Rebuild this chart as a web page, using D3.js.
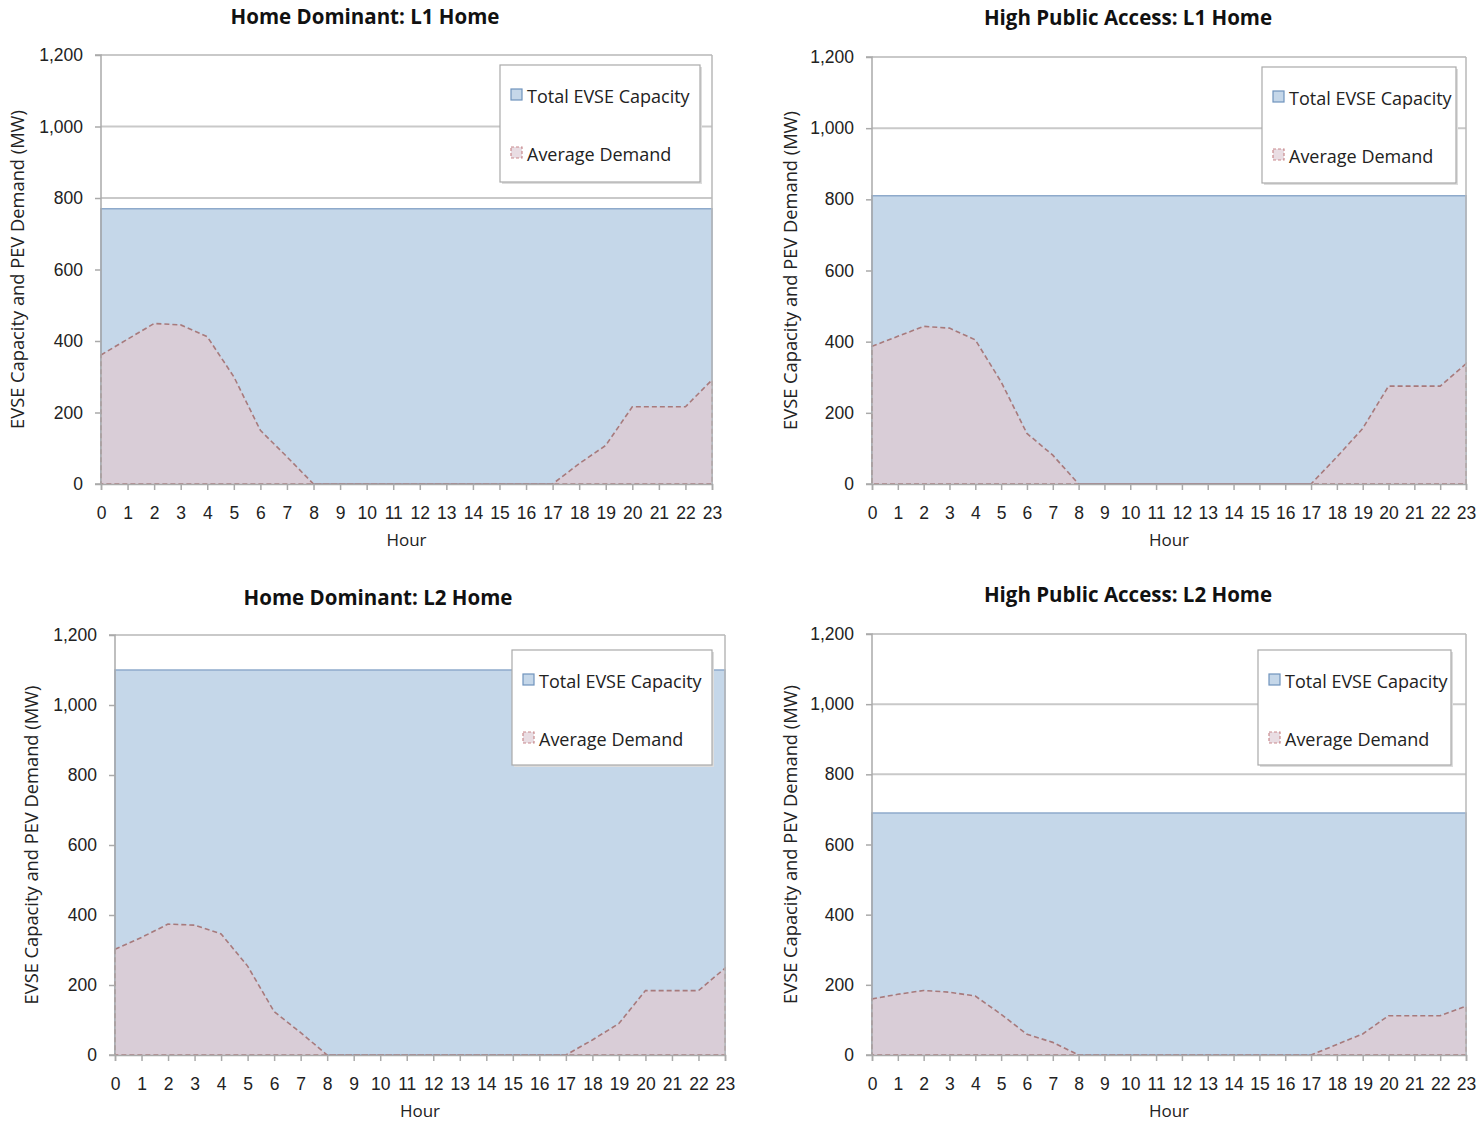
<!DOCTYPE html>
<html>
<head>
<meta charset="utf-8">
<script src="https://cdn.jsdelivr.net/npm/d3@7"></script>
<style>
  body { margin: 0; background: #fff; }
  svg { font-family: "Open Sans", "Lato", sans-serif; }
  .title { font-weight: bold; font-size: 20.5px; fill: #111; }
  .tick text { font-size: 17.5px; fill: #222; }
  .lbl { font-size: 17px; fill: #222; }
  .ytitle { font-size: 18.3px; fill: #222; }
  .leg { font-size: 18px; fill: #222; }
</style>
</head>
<body>
<svg id="chart" width="1484" height="1125"></svg>
<script>
"use strict";

// hours on the x axis
var hours = [0, 1, 2, 3, 4, 5, 6, 7, 8, 9, 10, 11, 12, 13, 14, 15, 16, 17, 18, 19, 20, 21, 22, 23];
var yTicks = [0, 200, 400, 600, 800, 1000, 1200];
var legendLabels = ["Total EVSE Capacity", "Average Demand"];
var titles = ["Home Dominant: L1 Home", "High Public Access: L1 Home",
              "Home Dominant: L2 Home", "High Public Access: L2 Home"];

// total EVSE capacity (MW)
var capHomeL1 = [770, 770, 770, 770, 770, 770, 770, 770, 770, 770, 770, 770, 770, 770, 770, 770, 770, 770, 770, 770, 770, 770, 770, 770];
var capPublicL1 = [810, 810, 810, 810, 810, 810, 810, 810, 810, 810, 810, 810, 810, 810, 810, 810, 810, 810, 810, 810, 810, 810, 810, 810];
var capHomeL2 = [1100, 1100, 1100, 1100, 1100, 1100, 1100, 1100, 1100, 1100, 1100, 1100, 1100, 1100, 1100, 1100, 1100, 1100, 1100, 1100, 1100, 1100, 1100, 1100];
var capPublicL2 = [690, 690, 690, 690, 690, 690, 690, 690, 690, 690, 690, 690, 690, 690, 690, 690, 690, 690, 690, 690, 690, 690, 690, 690];

// average PEV demand (MW)
var demHomeL1 = [361, 405, 449, 445, 412, 300, 150, 76, 0, 0, 0, 0, 0, 0, 0, 0, 0, 0, 57, 108, 216, 216, 216, 291];
var demPublicL1 = [387, 415, 443, 438, 405, 287, 142, 81, 0, 0, 0, 0, 0, 0, 0, 0, 0, 0, 76, 156, 275, 275, 275, 338];
var demHomeL2 = [302, 336, 374, 371, 346, 254, 124, 64, 0, 0, 0, 0, 0, 0, 0, 0, 0, 0, 43, 90, 184, 184, 184, 248];
var demPublicL2 = [160, 173, 184, 179, 168, 116, 59, 36, 0, 0, 0, 0, 0, 0, 0, 0, 0, 0, 30, 60, 112, 112, 112, 139];

var svg = d3.select("#chart");

var panels = [
  { title: titles[0], cap: capHomeL1, dem: demHomeL1,
    left: 101, right: 712, top: 55, bottom: 484, titleX: 365, titleY: 24, yTitleX: 24,
    legend: { x: 500, y: 65, w: 200, h: 117 } },
  { title: titles[1], cap: capPublicL1, dem: demPublicL1,
    left: 872, right: 1466, top: 57, bottom: 484, titleX: 1128, titleY: 25, yTitleX: 797,
    legend: { x: 1262, y: 67, w: 194, h: 116 } },
  { title: titles[2], cap: capHomeL2, dem: demHomeL2,
    left: 115, right: 725, top: 635, bottom: 1055, titleX: 378, titleY: 605, yTitleX: 38,
    legend: { x: 512, y: 650, w: 200, h: 115 } },
  { title: titles[3], cap: capPublicL2, dem: demPublicL2,
    left: 872, right: 1466, top: 634, bottom: 1055, titleX: 1128, titleY: 602, yTitleX: 797,
    legend: { x: 1258, y: 650, w: 193, h: 115 } }
];

panels.forEach(function(p) {
  var x = d3.scalePoint().domain(hours).range([p.left, p.right]);
  var y = d3.scaleLinear().domain([0, 1200]).range([p.bottom, p.top]);

  // title
  svg.append("text").attr("class", "title")
    .attr("x", p.titleX).attr("y", p.titleY)
    .attr("text-anchor", "middle").text(p.title);

  // gridlines
  svg.append("g").selectAll("line").data(yTicks.slice(1)).enter().append("line")
    .attr("x1", p.left).attr("x2", p.right)
    .attr("y1", function(d) { return y(d); }).attr("y2", function(d) { return y(d); })
    .attr("stroke", "#c9c9c9").attr("stroke-width", 2);

  var area = d3.area()
    .x(function(d, i) { return x(hours[i]); })
    .y0(y(0))
    .y1(function(d) { return y(d); });

  // capacity area
  svg.append("path").datum(p.cap)
    .attr("d", area)
    .attr("fill", "#c5d7e9")
    .attr("stroke", "#8eaacb").attr("stroke-width", 1.5);

  // demand area, dashed outline
  svg.append("path").datum(p.dem)
    .attr("d", area)
    .attr("fill", "#d9cdd7")
    .attr("stroke", "#a77a7c").attr("stroke-width", 1.6)
    .attr("stroke-dasharray", "5,3");

  // plot frame (right side)
  svg.append("line").attr("x1", p.right).attr("x2", p.right)
    .attr("y1", p.top).attr("y2", p.bottom)
    .attr("stroke", "#b8b8b8").attr("stroke-width", 1.5);

  // axes
  var yAxis = d3.axisLeft(y).tickValues(yTicks).tickSize(6).tickPadding(12)
    .tickFormat(d3.format(","));
  var gy = svg.append("g").attr("transform", "translate(" + p.left + ",0)").call(yAxis);
  gy.selectAll("line, path").attr("stroke", "#aaa").attr("stroke-width", 1.5);
  gy.select(".domain").attr("d", "M-6," + p.top + "H0V" + p.bottom + "H-6");

  var xAxis = d3.axisBottom(x).tickSize(6).tickPadding(17);
  var gx = svg.append("g").attr("transform", "translate(0," + p.bottom + ")").call(xAxis);
  gx.selectAll("line, path").attr("stroke", "#aaa").attr("stroke-width", 1.5);

  // axis titles
  svg.append("text").attr("class", "lbl")
    .attr("x", (p.left + p.right) / 2).attr("y", p.bottom + 62)
    .attr("text-anchor", "middle").text("Hour");
  svg.append("text").attr("class", "ytitle")
    .attr("transform", "translate(" + p.yTitleX + "," + ((p.top + p.bottom) / 2) + ")rotate(-90)")
    .attr("text-anchor", "middle").text("EVSE Capacity and PEV Demand (MW)");

  // legend
  var L = p.legend;
  svg.append("rect").attr("x", L.x + 2).attr("y", L.y + 2)
    .attr("width", L.w).attr("height", L.h).attr("fill", "#ddd");
  svg.append("rect").attr("x", L.x).attr("y", L.y)
    .attr("width", L.w).attr("height", L.h)
    .attr("fill", "#fff").attr("stroke", "#aaa").attr("stroke-width", 1.2);

  var lg = svg.append("g").selectAll("g").data(legendLabels).enter().append("g")
    .attr("transform", function(d, i) { return "translate(" + (L.x + 11) + "," + (L.y + 38 + i * 58) + ")"; });
  lg.append("rect")
    .attr("x", 0).attr("y", -14).attr("width", 11).attr("height", 11)
    .attr("fill", function(d, i) { return i === 0 ? "#c5d7e9" : "#e9dde3"; })
    .attr("stroke", function(d, i) { return i === 0 ? "#6f93bd" : "#c98a8e"; })
    .attr("stroke-width", 1.2)
    .attr("stroke-dasharray", function(d, i) { return i === 0 ? null : "3,2"; });
  lg.append("text").attr("class", "leg")
    .attr("x", 16).attr("y", 0)
    .text(function(d) { return d; });
});
</script>
</body>
</html>
